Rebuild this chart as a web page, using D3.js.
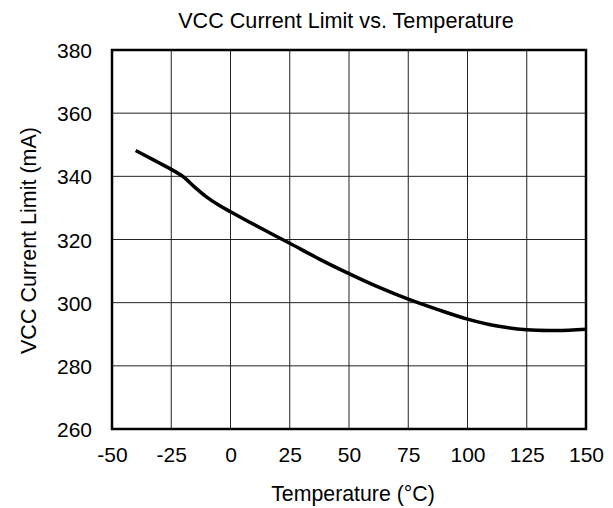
<!DOCTYPE html>
<html><head><meta charset="utf-8">
<script src="https://cdn.jsdelivr.net/npm/d3@7"></script>
<style>
html,body{margin:0;padding:0;background:#fff;}
svg{display:block;}
text{font-family:"Liberation Sans",Arial,sans-serif;fill:#000;}
</style></head>
<body>
<svg id="chart" width="613" height="508"></svg>
<script>
const temperature = [-40, -35, -30, -25, -20, -15, -10, -5, 0, 12.5, 25, 37.5, 50, 62.5, 75, 87.5, 100, 112.5, 125, 137.5, 150];
const currentLimit = [348.2, 346.2, 344.2, 342.2, 339.9, 336.5, 333.4, 330.9, 328.8, 323.7, 318.8, 313.8, 309.2, 304.9, 301.1, 297.8, 294.8, 292.6, 291.4, 291.2, 291.6];
const xTicks = [-50, -25, 0, 25, 50, 75, 100, 125, 150];
const yTicks = [260, 280, 300, 320, 340, 360, 380];
const titleText = "VCC Current Limit vs. Temperature";
const xLabel = "Temperature (°C)";
const yLabel = "VCC Current Limit (mA)";

const svg = d3.select("#chart");
const L = 112, R = 586, T = 50, B = 429;
const x = d3.scaleLinear().domain([-50, 150]).range([L, R]);
const y = d3.scaleLinear().domain([260, 380]).range([B, T]);

// grid
const g = svg.append("g");
g.selectAll("line.vx").data(xTicks.slice(1, -1)).enter().append("line")
  .attr("x1", d => x(d)).attr("x2", d => x(d)).attr("y1", T).attr("y2", B)
  .attr("stroke", "#222").attr("stroke-width", 1);
g.selectAll("line.hy").data(yTicks.slice(1, -1)).enter().append("line")
  .attr("y1", d => y(d)).attr("y2", d => y(d)).attr("x1", L).attr("x2", R)
  .attr("stroke", "#222").attr("stroke-width", 1);

// axes (labels only)
const fmt = d => String(d);
const xAxis = d3.axisBottom(x).tickValues(xTicks).tickSize(0).tickPadding(0).tickFormat(fmt);
const xa = svg.append("g").attr("transform", `translate(0,${B})`).call(xAxis);
xa.select(".domain").remove();
xa.selectAll("text").attr("font-size", 21).attr("font-family", '"Liberation Sans",Arial,sans-serif')
  .attr("dy", null).attr("y", 32.7).attr("fill", "#000");

const yAxis = d3.axisLeft(y).tickValues(yTicks).tickSize(0).tickPadding(0).tickFormat(fmt);
const ya = svg.append("g").attr("transform", `translate(92,0)`).call(yAxis);
ya.select(".domain").remove();
ya.selectAll("text").attr("font-size", 21).attr("font-family", '"Liberation Sans",Arial,sans-serif')
  .attr("x", 0).attr("dy", "0.36em").attr("fill", "#000");

// curve
const line = d3.line().x((d, i) => x(temperature[i])).y(d => y(d)).curve(d3.curveCatmullRom.alpha(0.5));
svg.append("path").datum(currentLimit).attr("d", line)
  .attr("fill", "none").attr("stroke", "#000").attr("stroke-width", 3.5)
  .attr("stroke-linejoin", "round").attr("stroke-linecap", "butt");

// border
svg.append("rect").attr("x", L).attr("y", T).attr("width", R - L).attr("height", B - T)
  .attr("fill", "none").attr("stroke", "#000").attr("stroke-width", 2.5);

// titles
svg.append("text").attr("x", 346).attr("y", 27.7).attr("text-anchor", "middle")
  .attr("font-size", 21.6).text(titleText);
svg.append("text").attr("x", 353).attr("y", 500.7).attr("text-anchor", "middle")
  .attr("font-size", 21.3).text(xLabel);
svg.append("text").attr("transform", "translate(35.5,240.5) rotate(-90)").attr("text-anchor", "middle")
  .attr("font-size", 21.5).text(yLabel);
</script>
</body></html>
